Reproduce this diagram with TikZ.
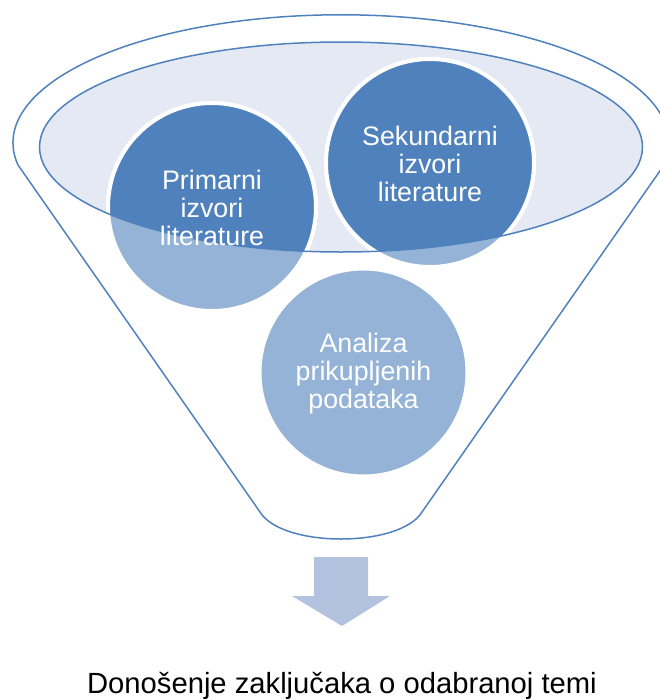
\documentclass[tikz,border=0pt]{standalone}
\usepackage{fontspec}
\setmainfont{Liberation Sans}
\usetikzlibrary{positioning}
\definecolor{accdark}{HTML}{4F81BD}
\definecolor{acclight}{HTML}{95B3D7}
\definecolor{mouthfill}{HTML}{E4E9F3}
\definecolor{arrowblue}{HTML}{B2C2DF}
\tikzset{
  funnelline/.style={draw=accdark,line width=1.5pt},
  lightball/.style={fill=acclight,draw=white,line width=4pt},
  darkball/.style={fill=accdark,draw=white,line width=4pt},
  balltext/.style={text=white,align=center,font=\fontsize{26.8}{27.8}\selectfont},
  captiontext/.style={text=black,font=\fontsize{29.2}{30}\selectfont}
}
\begin{document}
\begin{tikzpicture}[x=1pt,y=-1pt]
  \useasboundingbox (0,0) rectangle (659,699);
  % mouth of the funnel
  \fill[mouthfill] (341,147) ellipse [x radius=301.5,y radius=105];
  % balls, lighter below the mouth
  \foreach \p in {(212,207),(430,163),(363.5,372.5)}
    \filldraw[lightball] \p circle (104);
  \begin{scope}
    \clip (341,147) ellipse [x radius=301.5,y radius=105];
    \foreach \p in {(212,207),(430,163)}
      \filldraw[darkball] \p circle (104);
  \end{scope}
  \draw[funnelline] (341,147) ellipse [x radius=301.5,y radius=105];
  % funnel outline
  \draw[funnelline] (18,165) arc[start angle=170,end angle=370,x radius=328,y radius=128]
    -- (422,512) .. controls (400,548) and (282,548) .. (260,512) -- cycle;
  % ball labels
  \node[balltext] (prim) at (212,208) {Primarni\\izvori\\literature};
  \node[balltext] (sek) at (430,164) {Sekundarni\\izvori\\literature};
  \node[balltext] (anal) at (363.5,373.5) {Analiza\\prikupljenih\\podataka};
  % output arrow and conclusion
  \fill[arrowblue] (314,557) -- (368,557) -- (368,596) -- (390,596) -- (342,626)
    -- (292,596) -- (314,596) -- cycle;
  \node[captiontext,anchor=base] (concl) at (342,693) {Donošenje zaključaka o odabranoj temi};
\end{tikzpicture}
\end{document}
